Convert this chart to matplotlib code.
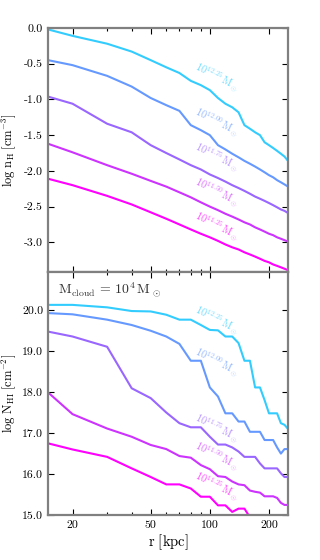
import numpy as np
import matplotlib
matplotlib.use("Agg")
import matplotlib.pyplot as plt
from matplotlib.ticker import FixedLocator, FixedFormatter, NullFormatter

plt.rcParams['font.family'] = 'serif'
plt.rcParams['font.serif'] = ['cmr10', 'DejaVu Serif']
plt.rcParams['mathtext.fontset'] = 'cm'
plt.rcParams['axes.unicode_minus'] = False
plt.rcParams['axes.formatter.use_mathtext'] = True

# radius grid (kpc)
r = [15, 20, 30, 40, 50, 60, 70, 80, 90, 100, 110, 120, 130, 140, 150,
     160, 170, 180, 190, 200, 210, 220, 230, 240, 250]

halo_masses = ["12.25", "12.00", "11.75", "11.50", "11.25"]
colors = ["#33ccff", "#6699ff", "#9966ff", "#cc33ff", "#ff00ff"]

# log n_H profiles
nH_1225 = [-0.02, -0.11, -0.22, -0.33, -0.45, -0.55, -0.63, -0.74, -0.80, -0.87,
           -0.98, -1.06, -1.11, -1.18, -1.36, -1.41, -1.46, -1.50, -1.60, -1.64,
           -1.68, -1.72, -1.76, -1.80, -1.86]
nH_1200 = [-0.45, -0.52, -0.67, -0.82, -0.98, -1.08, -1.16, -1.36, -1.43, -1.50,
           -1.64, -1.70, -1.76, -1.81, -1.86, -1.90, -1.94, -1.98, -2.02, -2.06,
           -2.09, -2.13, -2.16, -2.19, -2.22]
nH_1175 = [-0.96, -1.06, -1.34, -1.46, -1.64, -1.75, -1.84, -1.92, -1.98, -2.05,
           -2.10, -2.15, -2.20, -2.24, -2.28, -2.32, -2.36, -2.39, -2.42, -2.45,
           -2.48, -2.51, -2.54, -2.56, -2.59]
nH_1150 = [-1.62, -1.74, -1.92, -2.04, -2.14, -2.22, -2.30, -2.37, -2.44, -2.50,
           -2.55, -2.60, -2.64, -2.68, -2.72, -2.75, -2.79, -2.82, -2.85, -2.88,
           -2.90, -2.93, -2.95, -2.97, -2.99]
nH_1125 = [-2.11, -2.20, -2.35, -2.47, -2.58, -2.67, -2.75, -2.82, -2.88, -2.93,
           -2.98, -3.03, -3.07, -3.10, -3.14, -3.17, -3.20, -3.23, -3.26, -3.28,
           -3.31, -3.33, -3.35, -3.37, -3.39]

# log N_HI profiles
NHI_1225 = [20.12, 20.12, 20.06, 19.97, 19.96, 19.88, 19.76, 19.76, 19.63, 19.51,
            19.50, 19.35, 19.35, 19.19, 18.76, 18.76, 18.11, 18.11, 17.80, 17.48,
            17.48, 17.48, 17.24, 17.20, 17.10]
NHI_1200 = [19.92, 19.89, 19.76, 19.63, 19.49, 19.35, 19.17, 18.76, 18.76, 18.11,
            17.89, 17.48, 17.48, 17.28, 17.28, 17.03, 17.03, 17.03, 16.83, 16.83,
            16.83, 16.65, 16.50, 16.61, 16.61]
NHI_1175 = [19.47, 19.35, 19.10, 18.09, 17.85, 17.50, 17.24, 17.14, 17.14, 16.91,
            16.72, 16.72, 16.65, 16.55, 16.42, 16.42, 16.42, 16.26, 16.14, 16.14,
            16.14, 16.14, 16.02, 15.93, 15.93]
NHI_1150 = [17.99, 17.46, 17.11, 16.91, 16.71, 16.61, 16.44, 16.40, 16.22, 16.12,
            15.95, 15.93, 15.82, 15.75, 15.73, 15.60, 15.57, 15.55, 15.46, 15.46,
            15.46, 15.42, 15.30, 15.25, 15.25]
NHI_1125 = [16.75, 16.60, 16.42, 16.14, 15.93, 15.75, 15.75, 15.65, 15.45, 15.45,
            15.24, 15.24, 15.08, 15.16, 15.16, 14.95, 14.90, 14.85, 14.75, 14.70,
            14.65, 14.60, 14.55, 14.50, 14.45]

nH = [nH_1225, nH_1200, nH_1175, nH_1150, nH_1125]
NHI = [NHI_1225, NHI_1200, NHI_1175, NHI_1150, NHI_1125]

# label centres (r, value) for each panel
lab_r = 109
nH_lab_y = [-0.68, -1.31, -1.81, -2.29, -2.77]
NHI_lab_y = [19.76, 18.74, 17.13, 16.44, 15.71]

fig = plt.figure(figsize=(3.2, 5.6), dpi=100)
ax1 = fig.add_axes([0.15, 0.515, 0.75, 0.435])
ax2 = fig.add_axes([0.15, 0.08, 0.75, 0.435], sharex=ax1)

for i in range(5):
    ax1.plot(r, nH[i], color=colors[i], lw=1.5)
    ax2.plot(r, NHI[i], color=colors[i], lw=1.5)
    lab = r"$10^{%s}\,\mathrm{M_\odot}$" % halo_masses[i]
    ax1.text(lab_r, nH_lab_y[i], lab, color=colors[i], alpha=0.7, fontsize=7.5,
             rotation=-27, ha='center', va='center')
    ax2.text(lab_r, NHI_lab_y[i], lab, color=colors[i], alpha=0.7, fontsize=7.5,
             rotation=-27, ha='center', va='center')

ax1.set_xscale('log')
ax1.set_xlim(15, 250)
ax1.set_ylim(-3.41, 0.0)
ax2.set_ylim(15.0, 20.93)

for ax in (ax1, ax2):
    ax.xaxis.set_major_locator(FixedLocator([20, 50, 100, 200]))
    ax.xaxis.set_minor_locator(FixedLocator([30, 40, 60, 70, 80, 90]))
    ax.xaxis.set_minor_formatter(NullFormatter())
    ax.tick_params(which='both', direction='in', top=True, right=True,
                   labelsize=8.5, width=0.8, color='black')
    ax.tick_params(which='major', length=4)
    ax.tick_params(which='minor', length=2.5)
    for s in ax.spines.values():
        s.set_color('#808080')
        s.set_linewidth(1.6)

ax1.yaxis.set_major_locator(FixedLocator([0.0, -0.5, -1.0, -1.5, -2.0, -2.5, -3.0]))
ax1.yaxis.set_major_formatter(FixedFormatter(["0.0", "-0.5", "-1.0", "-1.5", "-2.0", "-2.5", "-3.0"]))
ax2.yaxis.set_major_locator(FixedLocator([15, 16, 17, 18, 19, 20]))
ax2.yaxis.set_major_formatter(FixedFormatter(["15.0", "16.0", "17.0", "18.0", "19.0", "20.0"]))
ax2.xaxis.set_major_formatter(FixedFormatter(["20", "50", "100", "200"]))
plt.setp(ax1.get_xticklabels(), visible=False)

ax1.set_ylabel(r"$\log\,\mathrm{n_H}\;[\mathrm{cm^{-3}}]$", fontsize=9)
ax2.set_ylabel(r"$\log\,\mathrm{N_{HI}}\;[\mathrm{cm^{-2}}]$", fontsize=9)
ax1.yaxis.set_label_coords(-0.125, 0.5)
ax2.yaxis.set_label_coords(-0.125, 0.5)
ax2.set_xlabel(r"$\mathrm{r\ [kpc]}$", fontsize=10.5, labelpad=2)

ax2.text(0.04, 0.925, r"$\mathrm{M_{cloud}}\,=\,10^4\,\mathrm{M_\odot}$",
         transform=ax2.transAxes, fontsize=10, color='#333333', va='center')

fig.savefig("out.png", dpi=100)
